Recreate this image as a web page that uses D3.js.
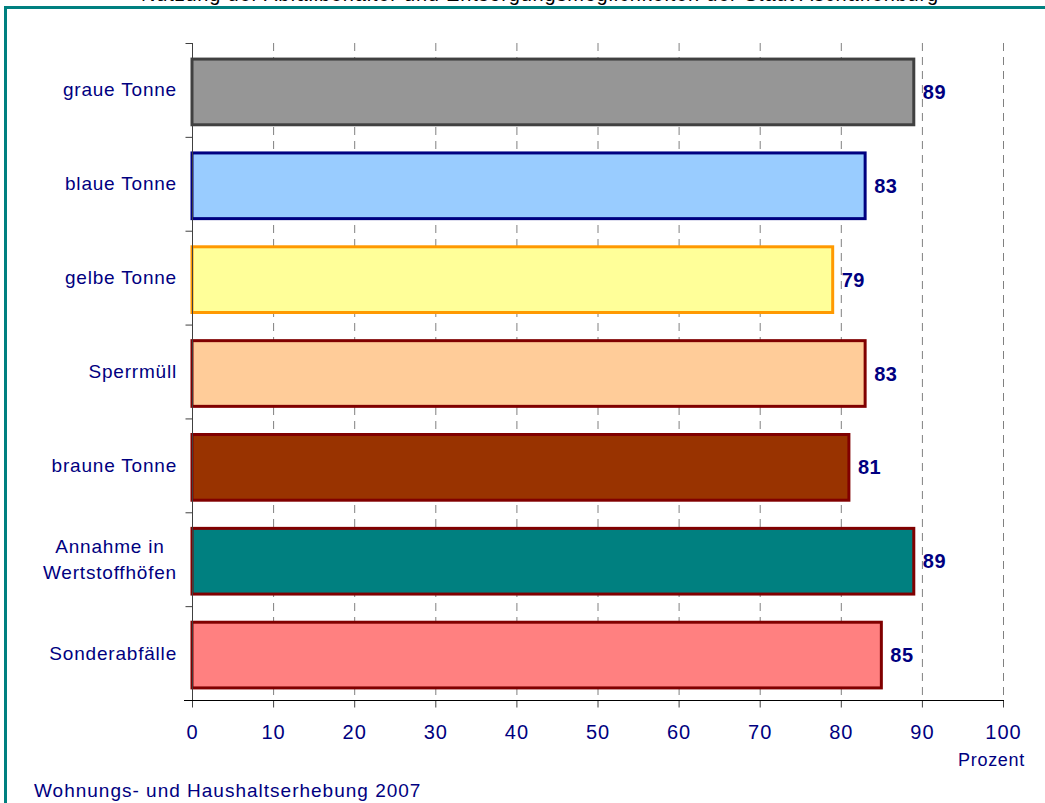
<!DOCTYPE html>
<html>
<head>
<meta charset="utf-8">
<script src="https://cdn.jsdelivr.net/npm/d3@7"></script>
<style>
  body { margin: 0; background: #fff; }
  svg { display: block; font-family: Arial, "Liberation Sans", sans-serif; }
</style>
</head>
<body>
<div id="chart"></div>
<script>

var categories = ["graue Tonne", "blaue Tonne", "gelbe Tonne", "Sperrmüll", "braune Tonne", "Annahme in\nWertstoffhöfen", "Sonderabfälle"];
var values = [89, 83, 79, 83, 81, 89, 85];
var fills = ["#969696", "#99ccff", "#ffff99", "#ffcc99", "#993300", "#008080", "#ff8080"];
var strokes = ["#404040", "#000080", "#ff9900", "#800000", "#800000", "#800000", "#800000"];
var xTicks = [0, 10, 20, 30, 40, 50, 60, 70, 80, 90, 100];

var width = 1045, height = 803;
var navy = "#000080";

var svg = d3.select("#chart")
    .append("svg")
    .attr("width", width)
    .attr("height", height);

// title, mostly above the visible area
svg.append("text")
    .attr("x", 540)
    .attr("y", 1)
    .style("text-anchor", "middle")
    .style("font-size", "20px")
    .style("letter-spacing", "0.8px")
    .style("fill", "#000")
    .text("Nutzung der Abfallbehälter und Entsorgungsmöglichkeiten der Stadt Aschaffenburg");

// teal frame
svg.append("rect")
    .attr("x", 5.5)
    .attr("y", 7.5)
    .attr("width", width + 20)
    .attr("height", height + 20)
    .style("fill", "none")
    .style("stroke", "#008080")
    .style("stroke-width", 3);

var x = d3.scaleLinear().domain([0, 100]).range([192, 1003]);
var y = d3.scaleBand().domain(categories).range([45, 702]).paddingInner(0.3).paddingOuter(0.15);
var yb = d3.scaleBand().domain(categories).range([43, 700]);

// dashed gridlines
svg.append("g")
    .selectAll("line")
    .data(xTicks.slice(1))
    .enter()
    .append("line")
    .attr("x1", function (d) { return x(d) + 0.5; })
    .attr("x2", function (d) { return x(d) + 0.5; })
    .attr("y1", 43)
    .attr("y2", 700)
    .style("stroke", "#808080")
    .style("stroke-width", 1)
    .style("stroke-dasharray", "8,6");

// bars
svg.append("g")
    .selectAll("rect")
    .data(values)
    .enter()
    .append("rect")
    .attr("x", x(0))
    .attr("y", function (d, i) { return y(categories[i]); })
    .attr("width", function (d) { return x(d) - x(0); })
    .attr("height", y.bandwidth())
    .style("fill", function (d, i) { return fills[i]; })
    .style("stroke", function (d, i) { return strokes[i]; })
    .style("stroke-width", 3);

// value labels
svg.append("g")
    .selectAll("text")
    .data(values)
    .enter()
    .append("text")
    .attr("x", function (d) { return x(d) + 9; })
    .attr("y", function (d, i) { return y(categories[i]) + y.bandwidth() / 2; })
    .attr("dominant-baseline", "central")
    .style("font-size", "20px")
    .style("font-weight", "bold")
    .style("letter-spacing", "0.5px")
    .style("fill", navy)
    .text(function (d) { return d; });

// y axis
var yAxis = svg.append("g")
    .attr("transform", "translate(" + (x(0) + 0.5) + ",0)");
yAxis.append("line")
    .attr("y1", 43).attr("y2", 700)
    .style("stroke", "#404040");
yAxis.selectAll(".tk")
    .data(categories.concat(["end"]))
    .enter()
    .append("line")
    .attr("x1", -7).attr("x2", 0)
    .attr("y1", function (d, i) { return i < categories.length ? yb(d) + 0.5 : 700.5; })
    .attr("y2", function (d, i) { return i < categories.length ? yb(d) + 0.5 : 700.5; })
    .style("stroke", "#404040");

// category labels
categories.forEach(function (c, i) {
    var lines = c.split("\n");
    var cy = yb(c) + yb.bandwidth() / 2;
    var t = svg.append("text")
        .style("font-size", "19px")
        .style("letter-spacing", "0.8px")
        .style("fill", navy);
    if (lines.length === 1) {
        t.attr("x", 177).attr("y", cy)
            .attr("dominant-baseline", "central")
            .style("text-anchor", "end")
            .text(c);
    } else {
        t.style("text-anchor", "middle");
        lines.forEach(function (l, j) {
            t.append("tspan")
                .attr("x", 0)
                .attr("y", cy + (j - (lines.length - 1) / 2) * 26)
                .attr("dominant-baseline", "central")
                .text(l);
        });
        var w = t.node().getBBox().width;
        t.selectAll("tspan").attr("x", 177 - w / 2);
    }
});

// x axis
var xAxis = d3.axisBottom(x)
    .tickValues(xTicks)
    .tickSize(7)
    .tickPadding(17);

var gx = svg.append("g")
    .attr("transform", "translate(0,700.5)")
    .call(xAxis);
gx.select(".domain").remove();
gx.append("line")
    .attr("x1", x(0) - 8).attr("x2", x(100) + 1)
    .style("stroke", "#000");
gx.selectAll(".tick line").style("stroke", "#404040");
gx.selectAll(".tick text")
    .style("font-family", "Arial, 'Liberation Sans', sans-serif")
    .style("font-size", "20px")
    .style("letter-spacing", "1px")
    .style("fill", navy);

svg.append("text")
    .attr("x", 1025)
    .attr("y", 766)
    .style("text-anchor", "end")
    .style("font-size", "18px")
    .style("letter-spacing", "0.7px")
    .style("fill", navy)
    .text("Prozent");

svg.append("text")
    .attr("x", 34)
    .attr("y", 797)
    .style("font-size", "19px")
    .style("letter-spacing", "1px")
    .style("fill", navy)
    .text("Wohnungs- und Haushaltserhebung 2007");

</script>
</body>
</html>
